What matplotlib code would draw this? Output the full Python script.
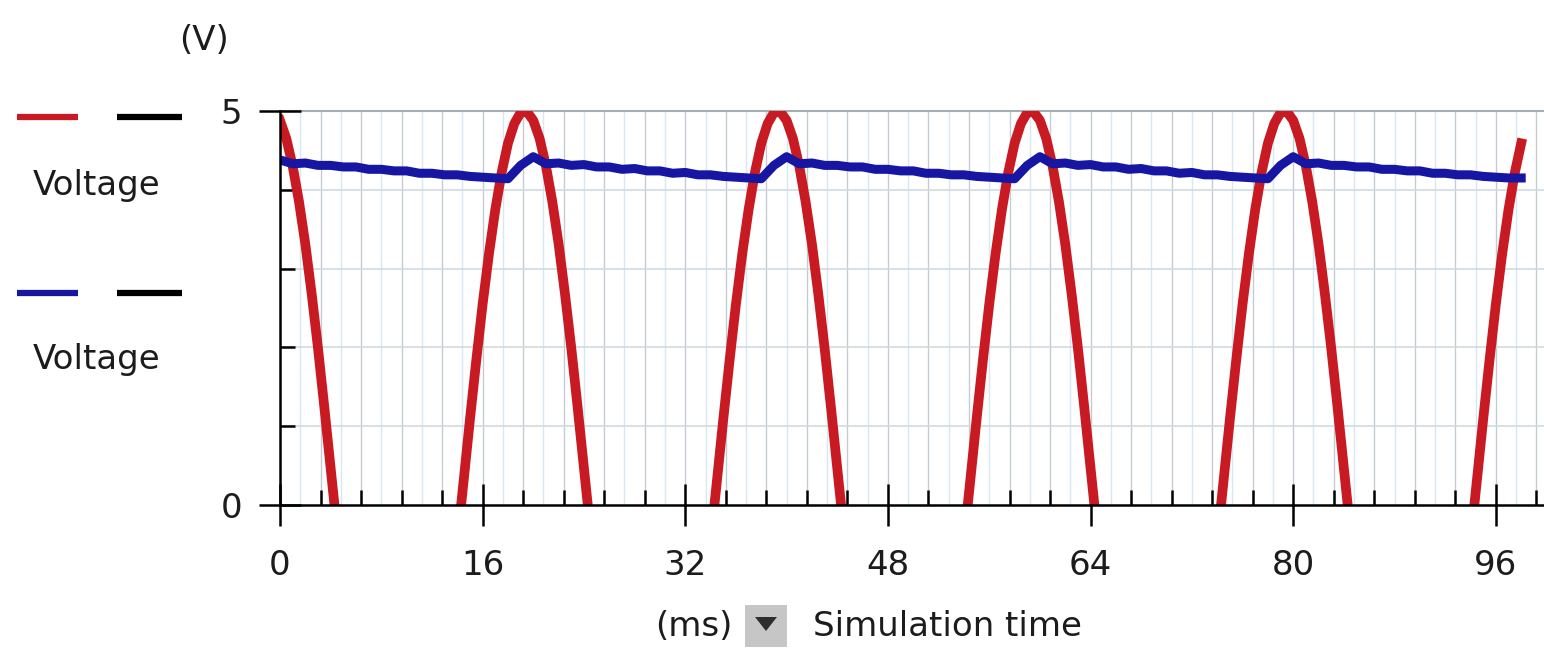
import matplotlib
matplotlib.use("Agg")
import matplotlib.pyplot as plt
from matplotlib.lines import Line2D
from matplotlib.patches import Rectangle, Polygon

# ---- data -------------------------------------------------------------
# source voltage, sampled every 0.5 ms (0 .. 98 ms)
source_t = [i * 0.5 for i in range(197)]
source_v = [
    4.88, 4.65, 4.30, 3.85, 3.31, 2.68, 1.99, 1.24, 0.47, -0.31,
    -1.09, -1.84, -2.55, -3.19, -3.75, -4.22, -4.59, -4.84, -4.98, -4.99,
    -4.88, -4.65, -4.30, -3.85, -3.31, -2.68, -1.99, -1.24, -0.47, 0.31,
    1.09, 1.84, 2.55, 3.19, 3.75, 4.22, 4.59, 4.84, 4.98, 4.99,
    4.88, 4.65, 4.30, 3.85, 3.31, 2.68, 1.99, 1.24, 0.47, -0.31,
    -1.09, -1.84, -2.55, -3.19, -3.75, -4.22, -4.59, -4.84, -4.98, -4.99,
    -4.88, -4.65, -4.30, -3.85, -3.31, -2.68, -1.99, -1.24, -0.47, 0.31,
    1.09, 1.84, 2.55, 3.19, 3.75, 4.22, 4.59, 4.84, 4.98, 4.99,
    4.88, 4.65, 4.30, 3.85, 3.31, 2.68, 1.99, 1.24, 0.47, -0.31,
    -1.09, -1.84, -2.55, -3.19, -3.75, -4.22, -4.59, -4.84, -4.98, -4.99,
    -4.88, -4.65, -4.30, -3.85, -3.31, -2.68, -1.99, -1.24, -0.47, 0.31,
    1.09, 1.84, 2.55, 3.19, 3.75, 4.22, 4.59, 4.84, 4.98, 4.99,
    4.88, 4.65, 4.30, 3.85, 3.31, 2.68, 1.99, 1.24, 0.47, -0.31,
    -1.09, -1.84, -2.55, -3.19, -3.75, -4.22, -4.59, -4.84, -4.98, -4.99,
    -4.88, -4.65, -4.30, -3.85, -3.31, -2.68, -1.99, -1.24, -0.47, 0.31,
    1.09, 1.84, 2.55, 3.19, 3.75, 4.22, 4.59, 4.84, 4.98, 4.99,
    4.88, 4.65, 4.30, 3.85, 3.31, 2.68, 1.99, 1.24, 0.47, -0.31,
    -1.09, -1.84, -2.55, -3.19, -3.75, -4.22, -4.59, -4.84, -4.98, -4.99,
    -4.88, -4.65, -4.30, -3.85, -3.31, -2.68, -1.99, -1.24, -0.47, 0.31,
    1.09, 1.84, 2.55, 3.19, 3.75, 4.22, 4.59,
]

# filtered output voltage, sampled every 1 ms (0 .. 98 ms)
output_t = list(range(0, 99))
output_v = [
    4.38, 4.33, 4.34, 4.31, 4.31, 4.29, 4.29, 4.26, 4.26, 4.24,
    4.24, 4.21, 4.21, 4.19, 4.19, 4.17, 4.16, 4.15, 4.14, 4.31,
    4.42, 4.33, 4.34, 4.31, 4.32, 4.29, 4.29, 4.26, 4.27, 4.24,
    4.24, 4.21, 4.22, 4.19, 4.19, 4.17, 4.16, 4.15, 4.14, 4.31,
    4.42, 4.33, 4.34, 4.31, 4.31, 4.29, 4.29, 4.26, 4.26, 4.24,
    4.24, 4.21, 4.21, 4.19, 4.19, 4.17, 4.16, 4.15, 4.14, 4.31,
    4.42, 4.33, 4.34, 4.31, 4.32, 4.29, 4.29, 4.26, 4.27, 4.24,
    4.24, 4.21, 4.22, 4.19, 4.19, 4.17, 4.16, 4.15, 4.14, 4.31,
    4.42, 4.33, 4.34, 4.31, 4.31, 4.29, 4.29, 4.26, 4.26, 4.24,
    4.24, 4.21, 4.21, 4.19, 4.19, 4.17, 4.16, 4.15, 4.15,
]

x_major = [0, 16, 32, 48, 64, 80, 96]
x_labels = ["0", "16", "32", "48", "64", "80", "96"]
y_major = [0, 5]
y_minor = [1, 2, 3, 4]
y_labels = ["0", "5"]

RED = "#c81a22"
BLUE = "#1616a2"
INK = "#1c1c1c"
FS = 24.5

# ---- figure -----------------------------------------------------------
W, H = 1544, 649
fig = plt.figure(figsize=(W / 100, H / 100), dpi=100)


def fx(x):
    return x / W


def fy(y):
    return 1 - y / H


ax = fig.add_axes([fx(280), fy(505), 1 - fx(280), (505 - 111) / H])
ax.set_xlim(0, 99.8)
ax.set_ylim(0, 5)

# grid: grey lines at minor ticks, pale blue lines half way between
x_minor = [i * 3.2 for i in range(32)]
for xv in x_minor:
    if xv > 0:
        ax.axvline(xv, color="#c3ccd3", lw=1.0, zorder=0)
    ax.axvline(xv + 1.6, color="#d8e8f2", lw=1.0, zorder=0)
for yv in y_minor:
    ax.axhline(yv, color="#d0dae2", lw=1.2, zorder=0)
ax.axhline(5, color="#a6aeb5", lw=1.5, zorder=0, clip_on=False)

ax.plot(source_t, source_v, color=RED, lw=7.0, zorder=3,
        solid_joinstyle="round")
ax.plot(output_t, output_v, color=BLUE, lw=6.5, zorder=4,
        solid_joinstyle="round")

for side in ("top", "right"):
    ax.spines[side].set_visible(False)
for side in ("left", "bottom"):
    ax.spines[side].set_color("black")
    ax.spines[side].set_linewidth(1.8)
    ax.spines[side].set_zorder(5)

ax.set_xticks(x_major)
ax.set_xticklabels(x_labels)
ax.set_xticks(x_minor, minor=True)
ax.set_yticks(y_major)
ax.set_yticklabels(y_labels)
ax.set_yticks(y_minor, minor=True)

ax.tick_params(axis="both", which="major", direction="inout", length=30,
               width=1.8, color="black", labelsize=FS, labelcolor=INK)
ax.tick_params(axis="x", which="major", pad=17)
ax.tick_params(axis="y", which="major", pad=12)
ax.tick_params(axis="both", which="minor", direction="in", length=11,
               width=1.8, color="black")

# ---- side legend ------------------------------------------------------
for y, col in ((117, RED), (293, BLUE)):
    fig.add_artist(Line2D([fx(17), fx(78)], [fy(y), fy(y)], color=col,
                          lw=4.5, solid_capstyle="butt"))
    fig.add_artist(Line2D([fx(117), fx(182)], [fy(y), fy(y)],
                          color="black", lw=4.5, solid_capstyle="butt"))
fig.text(fx(97), fy(185), "Voltage", ha="center", va="center",
         fontsize=FS, color=INK)
fig.text(fx(97), fy(360), "Voltage", ha="center", va="center",
         fontsize=FS, color=INK)

fig.text(fx(204), fy(40), "(V)", ha="center", va="center",
         fontsize=FS, color=INK)

# ---- time axis caption with drop-down button --------------------------
fig.text(fx(694), fy(627), "(ms)", ha="center", va="center",
         fontsize=FS, color=INK)
fig.add_artist(Rectangle((fx(745), fy(647)), fx(787) - fx(745),
                         fy(605) - fy(647), transform=fig.transFigure,
                         facecolor="#c6c6c6", edgecolor="none"))
fig.add_artist(Polygon([(fx(755), fy(617)), (fx(777), fy(617)),
                        (fx(766), fy(631))], closed=True,
                       transform=fig.transFigure, facecolor="#2e2e2e",
                       edgecolor="none"))
fig.text(fx(813), fy(627), "Simulation time", ha="left", va="center",
         fontsize=FS, color=INK)

fig.savefig("out.png", dpi=100, facecolor="white")
